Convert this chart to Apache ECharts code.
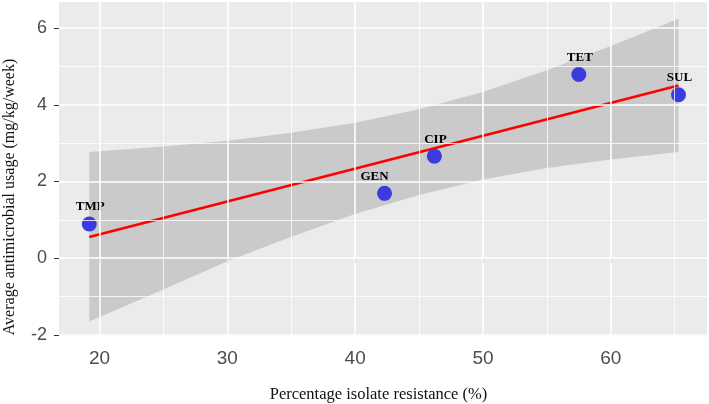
<!DOCTYPE html>
<html>
<head>
<meta charset="utf-8">
<script src="https://cdn.jsdelivr.net/npm/echarts@6/dist/echarts.min.js"></script>
<style>
html,body{margin:0;padding:0;background:#fff;}
#chart{width:709px;height:404px;}
</style>
</head>
<body>
<div id="chart"></div>
<script>
// ---- data ----
var drugs = ['TMP', 'GEN', 'CIP', 'TET', 'SUL'];
var resistance = [19.2, 42.3, 46.2, 57.5, 65.3];   // x, %
var usage = [0.89, 1.69, 2.66, 4.79, 4.26];         // y, mg/kg/week

// fitted line end points
var fitX = [19.2, 65.3];
var fitY = [0.55, 4.50];

// confidence band
var bandX = [19.2, 25, 30, 35, 40, 45, 50, 55, 60, 65.3];
var bandUpper = [2.77, 2.91, 3.06, 3.27, 3.53, 3.88, 4.33, 4.90, 5.53, 6.24];
var bandLower = [-1.65, -0.82, -0.08, 0.56, 1.15, 1.65, 2.05, 2.35, 2.57, 2.77];

// axis ticks
var xTicks = [20, 30, 40, 50, 60];
var xMinorTicks = [25, 35, 45, 55, 65];
var yTicks = [-2, 0, 2, 4, 6];
var yMinorTicks = [-1, 1, 3, 5];

// ---- chart ----
var chart = echarts.init(document.getElementById('chart'), null, {renderer: 'canvas'});

var gridLines = [];
xTicks.forEach(function (v) { gridLines.push({xAxis: v, lineStyle: {color: '#fff', width: 1.6, type: 'solid'}}); });
xMinorTicks.forEach(function (v) { gridLines.push({xAxis: v, lineStyle: {color: '#fff', width: 0.8, type: 'solid'}}); });
yTicks.forEach(function (v) { gridLines.push({yAxis: v, lineStyle: {color: '#fff', width: 1.6, type: 'solid'}}); });
yMinorTicks.forEach(function (v) { gridLines.push({yAxis: v, lineStyle: {color: '#fff', width: 0.8, type: 'solid'}}); });

var labelOffsets = {GEN: [-10, 0]};
var pointData = drugs.map(function (d, i) {
  return {
    value: [resistance[i], usage[i]],
    name: d,
    label: {offset: labelOffsets[d] || [1, 0]}
  };
});

var option = {
  animation: false,
  grid: {
    left: 59, right: 2, top: 2, bottom: 68,
    show: true, backgroundColor: '#EBEBEB', borderWidth: 0
  },
  xAxis: {
    type: 'value', min: 16.83, max: 67.53,
    axisLine: {show: false},
    axisTick: {show: true, length: 5, customValues: xTicks, lineStyle: {color: '#333', width: 1}},
    axisLabel: {customValues: xTicks, color: '#4D4D4D', fontSize: 19, fontFamily: 'Liberation Sans', margin: 13},
    splitLine: {show: false}
  },
  yAxis: {
    type: 'value', min: -2.03, max: 6.68,
    axisLine: {show: false},
    axisTick: {show: true, length: 5, customValues: yTicks, lineStyle: {color: '#333', width: 1}},
    axisLabel: {customValues: yTicks, color: '#4D4D4D', fontSize: 18, fontFamily: 'Liberation Sans', margin: 12},
    splitLine: {show: false}
  },
  graphic: [
    {
      type: 'text', x: 378.5, y: 395,
      style: {text: 'Percentage isolate resistance (%)', font: '16.5px "Liberation Serif"', fill: '#111',
              align: 'center', verticalAlign: 'middle'}
    },
    {
      type: 'text', x: 10, y: 197, rotation: Math.PI / 2,
      style: {text: 'Average antimicrobial usage (mg/kg/week)', font: '16px "Liberation Serif"', fill: '#111',
              align: 'center', verticalAlign: 'middle'}
    }
  ],
  series: [
    {
      type: 'line', data: [], z: 1, silent: true,
      markLine: {silent: true, symbol: ['none', 'none'], label: {show: false}, animation: false, data: gridLines}
    },
    {
      type: 'custom', z: 2, silent: true, clip: true,
      data: [[bandX[0], bandLower[0]]],
      renderItem: function (params, api) {
        var pts = [];
        for (var i = 0; i < bandX.length; i++) pts.push(api.coord([bandX[i], bandUpper[i]]));
        for (var j = bandX.length - 1; j >= 0; j--) pts.push(api.coord([bandX[j], bandLower[j]]));
        return {type: 'polygon', shape: {points: pts}, style: {fill: 'rgba(153,153,153,0.4)'}};
      }
    },
    {
      type: 'line', z: 3, silent: true, symbol: 'none',
      data: fitX.map(function (x, i) { return [x, fitY[i]]; }),
      lineStyle: {color: '#FF0000', width: 2.6}
    },
    {
      type: 'scatter', z: 4, silent: true,
      symbolSize: 15,
      itemStyle: {color: '#3B3BE0', opacity: 1},
      data: pointData,
      label: {
        show: true, position: 'top', distance: 3,
        formatter: '{b}', color: '#000', fontFamily: 'Liberation Serif', fontWeight: 'bold', fontSize: 13
      }
    }
  ]
};
chart.setOption(option);
</script>
</body>
</html>
